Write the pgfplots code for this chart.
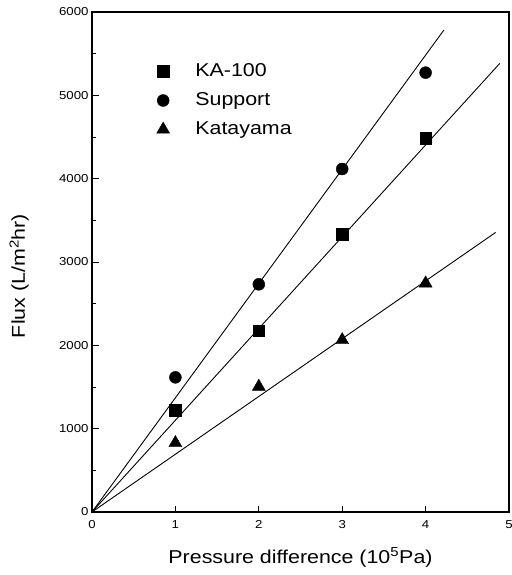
\documentclass[border=0pt]{standalone}
\usepackage{fontspec}
\setmainfont[FakeStretch=1.15]{Liberation Sans}
\usepackage{pgfplots}
\pgfplotsset{compat=1.18}

\begin{document}
\begin{tikzpicture}
\begin{axis}[
  at={(0pt,0pt)}, anchor=south west,
  scale only axis,
  width=417pt, height=500pt,
  xmin=0, xmax=5, ymin=0, ymax=6000,
  xtick={0,1,2,3,4,5},
  ytick={0,1000,2000,3000,4000,5000,6000},
  minor y tick num=1,
  xtick pos=bottom, ytick pos=left,
  tick align=inside,
  major tick length=6.5pt, minor tick length=4pt,
  axis line style={line width=1.3pt},
  tick style={line width=0.8pt, black},
  scaled y ticks=false,
  /pgf/number format/assume math mode=true,
  /pgf/number format/1000 sep={},
  tick label style={font=\fontsize{11.5}{13}\selectfont},
  xticklabel style={yshift=-5pt},
  label style={font=\fontsize{18.6}{22}\selectfont},
  xlabel={Pressure difference (10\textsuperscript{5}Pa)},
  ylabel={Flux (L/m\textsuperscript{2}hr)},
  xlabel style={at={(axis description cs:0.5,-0.102)}, anchor=base},
  ylabel style={at={(axis description cs:-0.161,0.472)}, anchor=base, rotate=0},
  legend image code/.code={\draw plot coordinates {(0pt,0pt)}; \path (-8pt,0pt) (32pt,0pt);},
  legend style={at={(axis description cs:0.151,0.899)}, anchor=north west,
    draw=none, fill=none, inner sep=0pt, outer sep=0pt,
    font=\fontsize{18.6}{22}\selectfont, row sep=11pt, column sep=0pt,
    nodes={inner xsep=0pt, inner ysep=0pt, text height=14pt, text depth=4pt}},
  legend cell align=left,
]
\addplot[black, only marks, mark=square*, mark size=5.8pt] coordinates {
  (1,1224) (2,2176) (3,3332) (4,4484)
};
\addlegendentry{KA-100}
\addplot[black, only marks, mark=*, mark size=6pt] coordinates {
  (1,1616) (2,2732) (3,4116) (4,5272)
};
\addlegendentry{Support}
\addplot[black, only marks, mark=triangle*, mark size=7.5pt] coordinates {
  (1,828) (2,1504) (3,2064) (4,2744)
};
\addlegendentry{Katayama}
\addplot[black, line width=0.9pt, forget plot] coordinates {(0,0) (4.22,5784)};
\addplot[black, line width=0.9pt, forget plot] coordinates {(0,0) (4.89,5384)};
\addplot[black, line width=0.9pt, forget plot] coordinates {(0,0) (4.84,3355)};
\end{axis}
\pgfresetboundingbox
\path[use as bounding box] (-92pt,-63pt) rectangle (419pt,512pt);
\end{tikzpicture}
\end{document}
